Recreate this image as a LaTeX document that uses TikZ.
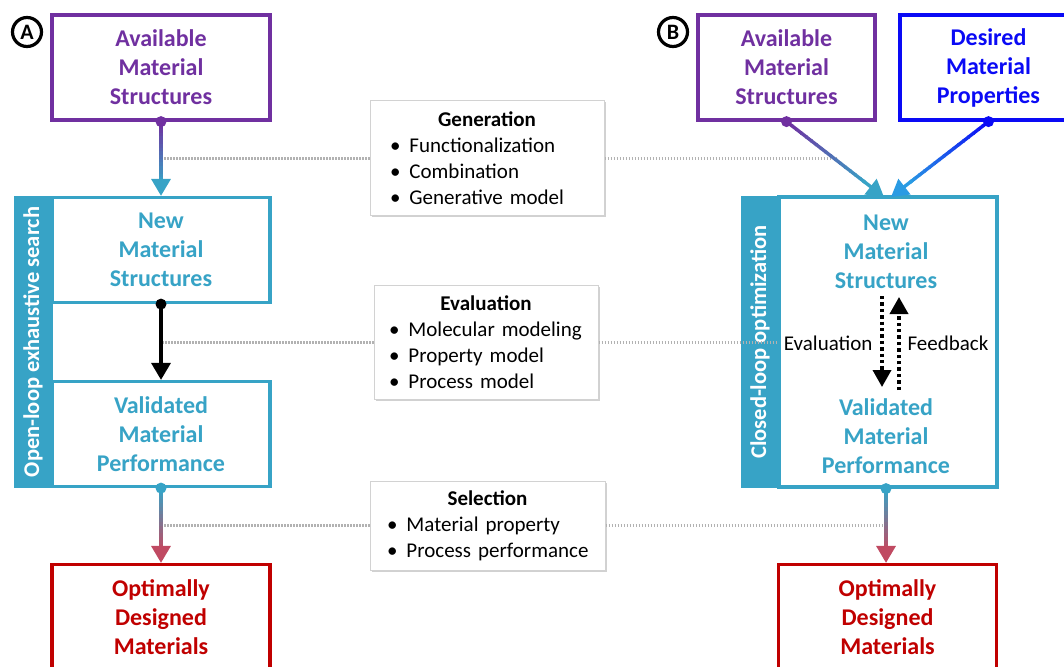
\documentclass[tikz,border=0pt]{standalone}
\usepackage{fontspec}
\setmainfont{Carlito}
\usetikzlibrary{arrows.meta,calc,shadows}
\definecolor{cpurple}{HTML}{7030A0}
\definecolor{cteal}{HTML}{37A3C6}
\definecolor{cred}{HTML}{C00000}
\definecolor{cblue}{HTML}{0A0AF5}
\definecolor{clblue}{HTML}{2A9BE3}
\definecolor{cpink}{HTML}{C04A62}
\newcommand\gradarrow[4]{%
  \foreach \i in {0,...,15}{%
    \pgfmathsetmacro\p{\i*100/16}%
    \draw[line width=3.4pt,#4!\p!#3] ($(#1)!\i/20!(#2)$) -- ($(#1)!{(\i+1.2)/20}!(#2)$);
  }
  \draw[line width=3.4pt,#4,-{Triangle[width=19pt,length=17pt]}] ($(#1)!0.78!(#2)$) -- (#2);
  \fill[#3] (#1) circle (5.5pt);
}
\tikzset{
  mbox/.style={draw=#1, text=#1, line width=3.2pt, fill=white, minimum width=218pt, minimum height=105pt,
    align=center, font=\bfseries\fontsize{24}{29}\selectfont},
  bigtext/.style={text=cteal, align=center, font=\bfseries\fontsize{24}{29}\selectfont},
  infobox/.style={draw=gray!35, line width=1pt, fill=white,
    drop shadow={shadow xshift=1.5pt, shadow yshift=-1.5pt, fill=black!30, opacity=0.6},
    text width=#1, inner xsep=0pt, inner ysep=4pt, align=left, font=\fontsize{21}{26}\selectfont},
  dotline/.style={gray!60, line width=3pt, dash pattern=on 1.5pt off 1.5pt},
  sidebar/.style={fill=cteal, draw=cteal, line width=2.5pt},
  sidetext/.style={text=white, rotate=90, font=\bfseries\fontsize{22.5}{26}\selectfont},
  circlab/.style={circle, draw=black, line width=3.2pt, inner sep=0pt, minimum size=29pt,
    font=\bfseries\fontsize{22}{22}\selectfont},
  looparrow/.style={line width=3.6pt, dash pattern=on 3.4pt off 3pt, -{Triangle[width=18pt,length=17pt]}},
  plaintext/.style={font=\fontsize{21}{26}\selectfont},
}
\begin{document}
\begin{tikzpicture}[x=1pt,y=-1pt]
\useasboundingbox (0,0) rectangle (1064,666);
\clip (0,0) rectangle (1064,666);
% ---------------- Panel A ----------------
\node[circlab] (labA) at (27,32) {A};
\node[mbox=cpurple] (avA) at (161,67.5) {Available\\Material\\Structures};
\fill[sidebar] (15,197) rectangle (52,487);
\node[sidetext] (sideA) at (33,342) {Open-loop exhaustive search};
\node[mbox=cteal] (nsA) at (161,250) {New\\Material\\Structures};
\node[mbox=cteal] (vmA) at (161,434) {Validated\\Material\\Performance};
\node[mbox=cred] (odA) at (161,617) {Optimally\\Designed\\Materials};
% ---------------- middle info boxes ----------------
\node[infobox=234pt, minimum height=114pt] (gen) at (487,158)
  {\makebox[234pt]{\bfseries Generation}\\
   \hspace*{20pt}\textbullet\hspace{9pt}Functionalization\\
   \hspace*{20pt}\textbullet\hspace{9pt}Combination\\
   \hspace*{20pt}\textbullet\hspace{9pt}Generative model};
\node[infobox=224pt, minimum height=114pt] (eva) at (486,342)
  {\makebox[224pt]{\bfseries Evaluation}\\
   \hspace*{15pt}\textbullet\hspace{9pt}Molecular modeling\\
   \hspace*{15pt}\textbullet\hspace{9pt}Property model\\
   \hspace*{15pt}\textbullet\hspace{9pt}Process model};
\node[infobox=235pt, minimum height=89pt] (sel) at (487.5,525.5)
  {\makebox[235pt]{\bfseries Selection}\\
   \hspace*{17pt}\textbullet\hspace{9pt}Material property\\
   \hspace*{17pt}\textbullet\hspace{9pt}Process performance};
% ---------------- Panel B ----------------
\node[circlab] (labB) at (673,32) {B};
\node[mbox=cpurple, minimum width=177pt] (avB) at (786.5,67.5) {Available\\Material\\Structures};
\node[mbox=cblue, minimum width=177pt] (dsB) at (988.5,67.5) {Desired\\Material\\Properties};
\fill[sidebar] (742,197) rectangle (779,487);
\node[sidetext] (sideB) at (760,342) {Closed-loop optimization};
\node[draw=cteal, line width=3.2pt, fill=white, minimum width=218pt, minimum height=290pt] (loopB) at (888,342) {};
\node[bigtext] (nsB) at (886,252) {New\\Material\\Structures};
\node[bigtext] (vmB) at (886,436) {Validated\\Material\\Performance};
\node[mbox=cred] (odB) at (887.5,617) {Optimally\\Designed\\Materials};
% ---------------- connectors ----------------
\coordinate (xA) at (161,0);
\coordinate (xB1) at (836,0);
\coordinate (xB3) at (886,0);
\draw[dotline] (gen.west) -- (gen.west -| xA);
\draw[dotline] (gen.east) -- (gen.east -| xB1);
\draw[dotline] (eva.west) -- (eva.west -| xA);
\draw[dotline] (eva.east) -- (eva.east -| loopB.west);
\draw[dotline] (sel.west) -- (sel.west -| xA);
\draw[dotline] (sel.east) -- (sel.east -| xB3);
% panel A arrows
\gradarrow{avA.south}{nsA.north}{cpurple}{cteal}
\fill (nsA.south) circle (5.5pt);
\draw[line width=3.4pt,-{Triangle[width=19pt,length=17pt]}] (nsA.south) -- (vmA.north);
\gradarrow{vmA.south}{odA.north}{cteal}{cpink}
% panel B arrows
\coordinate (tipL) at (884,197);
\coordinate (tipR) at (891,197);
\gradarrow{avB.south}{tipL}{cpurple}{cteal}
\gradarrow{dsB.south}{tipR}{cblue}{clblue}
\coordinate (evTop) at (882,296);
\coordinate (evBot) at (882,387);
\coordinate (fbBot) at (899,390);
\coordinate (fbTop) at (899,297);
\draw[looparrow] (evTop) -- (evBot);
\draw[looparrow] (fbBot) -- (fbTop);
\node[plaintext, anchor=east] (evl) at (876,343) {Evaluation};
\node[plaintext, anchor=west] (fbl) at (904,343) {Feedback};
\gradarrow{loopB.south -| xB3}{odB.north -| xB3}{cteal}{cpink}
\end{tikzpicture}
\end{document}
